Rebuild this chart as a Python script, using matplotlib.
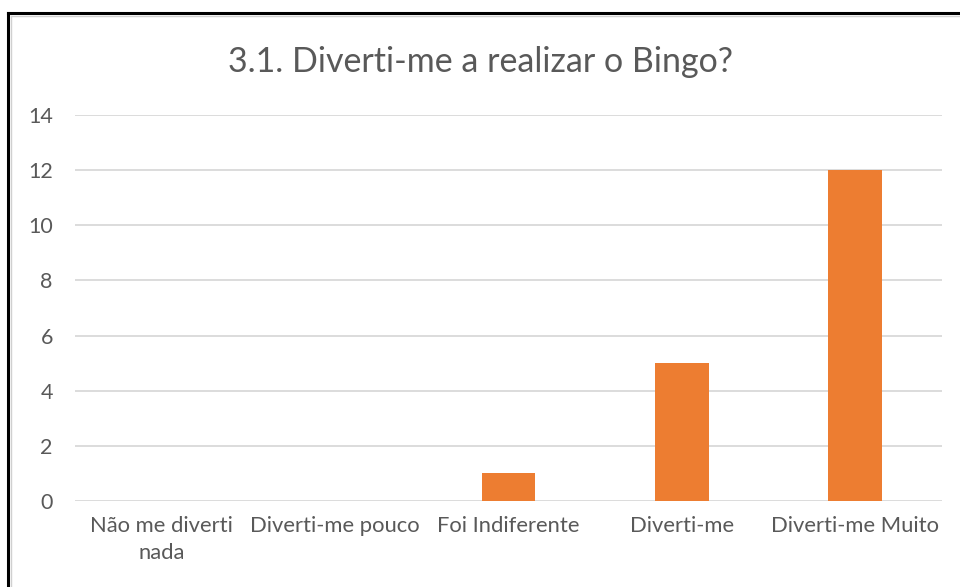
import matplotlib
matplotlib.use("Agg")
import matplotlib.pyplot as plt
from matplotlib.lines import Line2D

# answers to question 3.1
categories = ["Não me diverti\nnada", "Diverti-me pouco", "Foi Indiferente",
              "Diverti-me", "Diverti-me Muito"]
counts = [0, 0, 1, 5, 12]
yticks = [0, 2, 4, 6, 8, 10, 12, 14]

plt.rcParams['font.family'] = ['Lato', 'DejaVu Sans']
text_gray = "#595959"

fig = plt.figure(figsize=(9.6, 5.87), dpi=100)
ax = fig.add_axes([75 / 960, 1 - 501 / 587, (942 - 75) / 960, (501 - 115) / 587])

ax.bar(range(len(categories)), counts, width=0.31, color="#ED7D31", zorder=3)
ax.set_xlim(-0.5, len(categories) - 0.5)
ax.set_ylim(0, 14)
ax.set_yticks(yticks)
ax.set_xticks(range(len(categories)))
ax.set_xticklabels(categories, fontsize=15.8, color=text_gray, linespacing=1.4)
ax.tick_params(axis='y', labelsize=15.5, labelcolor=text_gray, length=0, pad=16)
ax.tick_params(axis='x', length=0, pad=11)
ax.yaxis.grid(True, color="#D9D9D9", linewidth=1.3, zorder=0)
for s in ax.spines.values():
    s.set_visible(False)

fig.text(0.5, 1 - 62 / 587, "3.1. Diverti-me a realizar o Bingo?", ha='center',
         va='center', fontsize=24.5, color=text_gray)

# frame around the chart
top = 1 - 13 / 587
left = 8 / 960
fig.add_artist(Line2D([left, 1], [top, top], color="black", linewidth=2.2,
                      transform=fig.transFigure))
fig.add_artist(Line2D([left, left], [0, top], color="black", linewidth=2.2,
                      transform=fig.transFigure))
fig.add_artist(Line2D([left + 2.5 / 960, 1], [top - 2.5 / 587, top - 2.5 / 587],
                      color="#D0D0D0", linewidth=1, transform=fig.transFigure))
fig.add_artist(Line2D([left + 2.5 / 960, left + 2.5 / 960], [0, top - 2.5 / 587],
                      color="#D0D0D0", linewidth=1, transform=fig.transFigure))

fig.savefig("out.png", dpi=100)
